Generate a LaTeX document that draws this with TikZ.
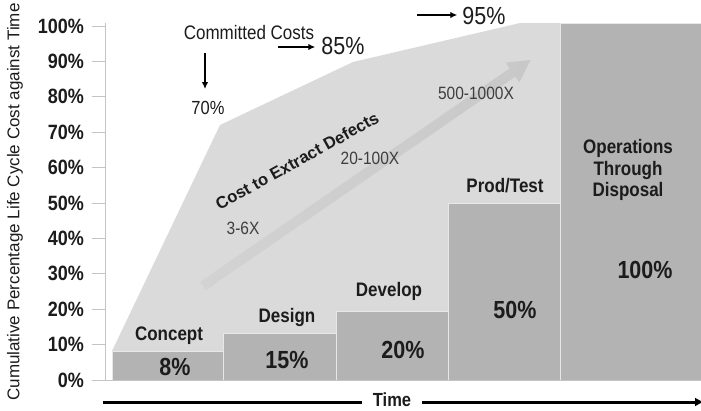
\documentclass[tikz,border=0pt]{standalone}
\usepackage{fontspec}
\setmainfont{Liberation Sans}
\usetikzlibrary{arrows.meta}
\definecolor{fondcout}{HTML}{DADADA}
\definecolor{barre}{HTML}{B3B3B3}
\definecolor{fleche}{HTML}{C8C8C8}
\definecolor{axegris}{HTML}{C4C4C4}
\definecolor{texte}{HTML}{1C1C1C}
\tikzset{
  haut/.style={yscale=1.15, transform shape},
  phase/.style={fill=barre, draw=white!70!barre, line width=0.6pt},
  etiquette/.style={haut, font=\fontsize{17}{19}\selectfont\bfseries, text=texte, inner sep=0pt, align=center},
  valeur/.style={haut, font=\fontsize{21.5}{24}\selectfont\bfseries, text=texte, inner sep=0pt},
  facteur/.style={haut, font=\fontsize{15.5}{18}\selectfont, text=texte!85!white, inner sep=0pt},
  graduation/.style={haut, font=\fontsize{18}{20}\selectfont\bfseries, text=texte, anchor=east, inner sep=0pt},
  axe/.style={draw=axegris, line width=0.8pt},
  fine/.style={line width=1.7pt, -{Latex[length=7pt,width=6.5pt]}},
}
\begin{document}
\begin{tikzpicture}[x=1pt, y=-1pt]
    \useasboundingbox (0,0) rectangle (701,410);
    % Zone des couts engages
    \fill[fondcout] (112,351) -- (220,125) -- (353,62) -- (520,23) -- (560,23)
        -- (560,380) -- (112,380) -- cycle;
    % Grande fleche du cout d'extraction des defauts
    \begin{scope}[shift={(203,286)}, rotate=34.6]
        \shade[left color=fondcout!60!fleche, right color=fleche]
            (0,-5) -- (376,-5) -- (376,-12) -- (398,0) -- (376,12) -- (376,5) -- (0,5) -- cycle;
    \end{scope}
    % Barres des phases
    \foreach \a/\b/\h in {112/223/351, 223/336/333, 336/448/311, 448/560/203, 560/701/23} {
        \draw[phase] (\a,380) rectangle (\b,\h);}
    % Axes et graduations
    \draw[axe] (105,23) -- (105,380);
    \draw[axe] (92,380) -- (701,380);
    \foreach \p in {0,10,...,100} {
        \draw[axe] (92,{380-3.54*\p}) -- (105,{380-3.54*\p});
        \node[graduation] (g\p) at (84,{380-3.54*\p}) {\p\%};}
    \node[rotate=90, font=\fontsize{17}{20}\selectfont, text=texte, inner sep=0pt] (titrey) at (15,202)
        {Cumulative Percentage Life Cycle Cost against Time};
    % Couts engages
    \node[haut, font=\fontsize{17}{20}\selectfont, text=texte, inner sep=0pt] (engages) at (249,33) {Committed Costs};
    \node[haut, font=\fontsize{16.5}{20}\selectfont, text=texte, inner sep=0pt] (p70) at (208,108) {70\%};
    \node[haut, font=\fontsize{21.5}{24}\selectfont, text=texte, inner sep=0pt] (p85) at (343,46) {85\%};
    \node[haut, font=\fontsize{21.5}{24}\selectfont, text=texte, inner sep=0pt] (p95) at (484,16) {95\%};
    \coordinate (d70) at (205,53);
    \coordinate (d85) at (278,47);
    \coordinate (d95) at (417,15);
    \draw[fine, shorten >=12pt] (d70) -- (d70 |- p70.north);
    \draw[fine, shorten >=6pt] (d85) -- (d85 -| p85.west);
    \draw[fine, shorten >=5pt] (d95) -- (d95 -| p95.west);
    % Cout d'extraction
    \node[rotate=29, font=\fontsize{16.7}{20}\selectfont\bfseries, text=texte, inner sep=0pt] (extraction) at (297,161)
        {Cost to Extract Defects};
    \node[facteur] (f1) at (243,228) {3-6X};
    \node[facteur] (f2) at (370,158) {20-100X};
    \node[facteur] (f3) at (476,93) {500-1000X};
    % Noms et valeurs des phases
    \node[etiquette] (concept) at (169,336) {Concept};
    \node[valeur] (v1) at (175,367) {8\%};
    \node[etiquette] (design) at (287,317) {Design};
    \node[valeur] (v2) at (287,360) {15\%};
    \node[etiquette] (develop) at (389,291) {Develop};
    \node[valeur] (v3) at (403,350) {20\%};
    \node[etiquette] (prod) at (505,186) {Prod/Test};
    \node[valeur] (v4) at (515,310) {50\%};
    \node[etiquette] (operations) at (628,170) {Operations\\Through\\Disposal};
    \node[valeur] (v5) at (645,270) {100\%};
    % Axe du temps
    \coordinate (t0) at (103,402);
    \coordinate (t1) at (704,402);
    \node[haut, font=\fontsize{16.5}{20}\selectfont\bfseries, text=texte, inner xsep=11pt, inner ysep=0pt] (temps) at (392,400) {Time};
    \draw[line width=3pt] (t0) -- (t0 -| temps.west);
    \draw[line width=3pt, -{Latex[length=9pt,width=9pt]}] (t1 -| temps.east) -- (t1);
\end{tikzpicture}
\end{document}
